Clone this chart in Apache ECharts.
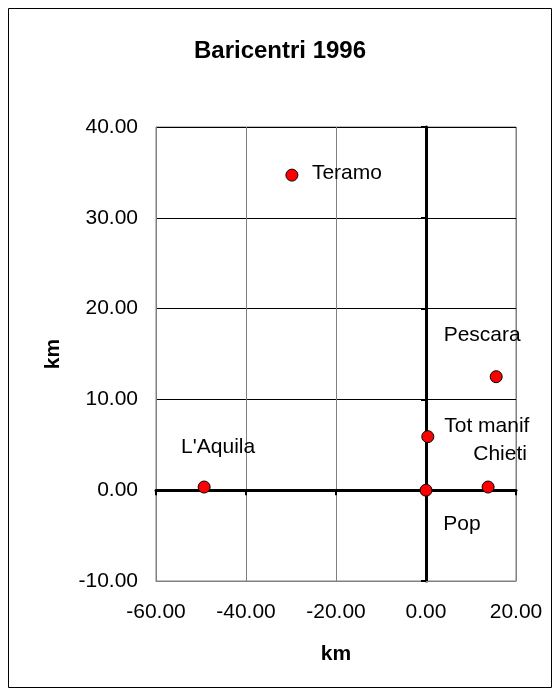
<!DOCTYPE html>
<html>
<head>
<meta charset="utf-8">
<script src="https://cdn.jsdelivr.net/npm/echarts@6/dist/echarts.min.js"></script>
<style>
html,body{margin:0;padding:0;background:#fff;}
#chart{width:560px;height:695px;}
</style>
</head>
<body>
<div id="chart"></div>
<script>
// ---- data ----
const names = ['Teramo', 'Pescara', 'Tot manif', 'Chieti', "L'Aquila", 'Pop'];
const xValues = [-29.8, 15.6, 0.4, 13.8, -49.3, 0.0];
const yValues = [34.7, 12.5, 5.9, 0.35, 0.35, 0.0];
const xTickValues = [-60, -40, -20, 0, 20];
const yTickValues = [-10, 0, 10, 20, 30, 40];
const titleText = 'Baricentri 1996';
const xAxisName = 'km';
const yAxisName = 'km';

// ---- layout / style (label placement relative to each point) ----
const labelOffsets = {
  'Teramo': [55, -2],
  'Pescara': [-14, -41],
  'Tot manif': [59, -10],
  'Chieti': [12, -33],
  "L'Aquila": [14, -40],
  'Pop': [36, 34]
};
const FONT = "'Liberation Sans', Arial, sans-serif";

const points = names.map((n, i) => ({
  name: n,
  value: [xValues[i], yValues[i]],
  label: { offset: labelOffsets[n] }
}));

const fmt = v => Number(v).toFixed(2);

const chart = echarts.init(document.getElementById('chart'), null, { renderer: 'canvas' });
chart.setOption({
  backgroundColor: '#ffffff',
  animation: false,
  textStyle: { fontFamily: FONT },
  title: {
    text: titleText,
    left: 'center',
    top: 39,
    padding: 0,
    textStyle: { fontFamily: FONT, fontSize: 24, fontWeight: 'bold', color: '#000' }
  },
  graphic: [{
    type: 'rect',
    shape: { x: 8.5, y: 8.5, width: 543, height: 679 },
    style: { fill: 'none', stroke: '#000', lineWidth: 1 },
    silent: true,
    z: -1
  }],
  grid: {
    left: 156, top: 127, width: 360, height: 454,
    show: true, borderColor: '#808080', borderWidth: 1, backgroundColor: 'transparent'
  },
  xAxis: [{
    type: 'value',
    min: xTickValues[0], max: xTickValues[xTickValues.length - 1], interval: 20,
    position: 'bottom',
    axisLine: { show: true, onZero: false, lineStyle: { color: '#808080', width: 1 } },
    axisTick: { show: false },
    axisLabel: { formatter: fmt, fontSize: 21, color: '#000', margin: 21, fontFamily: FONT },
    splitLine: { show: true, lineStyle: { color: '#808080', width: 1 } },
    name: xAxisName, nameLocation: 'middle', nameGap: 63,
    nameTextStyle: { fontSize: 21, fontWeight: 'bold', color: '#000', fontFamily: FONT }
  }, {
    type: 'value',
    min: xTickValues[0], max: xTickValues[xTickValues.length - 1], interval: 20,
    position: 'bottom',
    axisLine: { show: true, onZero: true, onZeroAxisIndex: 1, lineStyle: { color: '#000', width: 3 } },
    axisTick: { show: true, inside: false, length: 5, lineStyle: { color: '#000', width: 2 } },
    axisLabel: { show: false },
    splitLine: { show: false }
  }],
  yAxis: [{
    type: 'value',
    min: yTickValues[0], max: yTickValues[yTickValues.length - 1], interval: 10,
    position: 'left',
    axisLine: { show: true, onZero: false, lineStyle: { color: '#808080', width: 1 } },
    axisTick: { show: false },
    axisLabel: { formatter: fmt, fontSize: 21, color: '#000', margin: 18, fontFamily: FONT },
    splitLine: { show: true, lineStyle: { color: '#000', width: 1 } },
    name: yAxisName, nameLocation: 'middle', nameGap: 92, nameRotate: 90,
    nameTextStyle: { fontSize: 21, fontWeight: 'bold', color: '#000', fontFamily: FONT }
  }, {
    type: 'value',
    min: yTickValues[0], max: yTickValues[yTickValues.length - 1], interval: 10,
    position: 'left',
    axisLine: { show: true, onZero: true, onZeroAxisIndex: 1, lineStyle: { color: '#000', width: 3 } },
    axisTick: { show: true, inside: false, length: 5, lineStyle: { color: '#000', width: 2 } },
    axisLabel: { show: false },
    splitLine: { show: false }
  }],
  series: [{
    type: 'scatter',
    xAxisIndex: 0, yAxisIndex: 0,
    symbol: 'circle',
    symbolSize: 12,
    itemStyle: { color: '#ff0000', borderColor: '#000', borderWidth: 1, opacity: 1 },
    label: {
      show: true, formatter: '{b}', position: 'inside',
      align: 'center', verticalAlign: 'middle',
      fontSize: 21, color: '#000', fontFamily: FONT
    },
    emphasis: { disabled: true },
    z: 5,
    data: points
  }]
});
</script>
</body>
</html>
